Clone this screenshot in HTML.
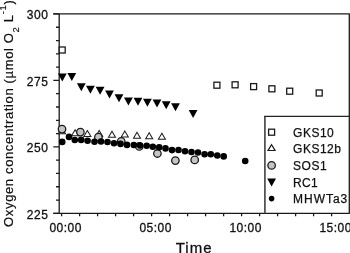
<!DOCTYPE html>
<html><head><meta charset="utf-8"><style>
html,body{margin:0;padding:0;background:#fff;}
body{width:350px;height:253px;position:relative;overflow:hidden;will-change:transform;font-family:"Liberation Sans",sans-serif;color:#111;}
svg{position:absolute;left:0;top:0;}
.yl{position:absolute;left:7.8px;width:40.6px;text-align:right;font-size:12px;line-height:14px;letter-spacing:0.5px;-webkit-text-stroke:0.3px #111;}
.xl{position:absolute;top:220.5px;width:40px;text-align:center;font-size:12px;line-height:14px;letter-spacing:0.5px;-webkit-text-stroke:0.3px #111;}
.lg{position:absolute;left:293.1px;font-size:12px;line-height:14px;white-space:nowrap;letter-spacing:0.5px;-webkit-text-stroke:0.25px #111;}
.tt{position:absolute;left:175.75px;top:239px;font-size:15px;line-height:17px;letter-spacing:1.0px;-webkit-text-stroke:0.3px #111;}
.ya{position:absolute;left:0;top:0;width:260px;transform-origin:0 0;transform:translate(0.7px,226.9px) rotate(-90deg);font-size:13px;line-height:16px;white-space:nowrap;text-align:left;letter-spacing:0.64px;-webkit-text-stroke:0.2px #111;}
.sb{position:relative;top:5.8px;font-size:9.6px;} .sp{position:relative;top:-6.9px;font-size:9.6px;}
</style></head><body>
<svg width="350" height="253" viewBox="0 0 350 253">
<path d="M59.2,13.95V213.35M349.3,13.95V213.35M53.3,13.95H349.90000000000003M53.3,213.35H349.90000000000003" stroke="#1a1a1a" stroke-width="1.3" fill="none"/>
<path d="M53.3,213.35H59.2M56,200.06H59.2M56,186.76H59.2M56,173.47H59.2M56,160.18H59.2M53.3,146.88H59.2M56,133.59H59.2M56,120.30H59.2M56,107.00H59.2M56,93.71H59.2M53.3,80.42H59.2M56,67.12H59.2M56,53.83H59.2M56,40.54H59.2M56,27.24H59.2M53.3,13.95H59.2M61.60,213.35V216.3M79.60,213.35V216.3M97.60,213.35V216.3M115.60,213.35V216.3M133.60,213.35V216.3M151.60,213.35V216.3M169.60,213.35V216.3M187.60,213.35V216.3M205.60,213.35V216.3M223.60,213.35V216.3M241.60,213.35V216.3M259.60,213.35V216.3M277.60,213.35V216.3M295.60,213.35V216.3M313.60,213.35V216.3M331.60,213.35V216.3" stroke="#1a1a1a" stroke-width="1.3" fill="none"/>
<path d="M264.9,213.35V116.3" stroke="#555" stroke-width="1.8" fill="none"/>
<path d="M264.1,116.3H349.3" stroke="#222" stroke-width="1.2" fill="none"/>
<rect x="59.20" y="47.00" width="6.00" height="6.00" fill="#fff" stroke="#1a1a1a" stroke-width="1.3"/>
<rect x="213.90" y="82.20" width="6.00" height="6.00" fill="#fff" stroke="#1a1a1a" stroke-width="1.3"/>
<rect x="232.10" y="81.80" width="6.00" height="6.00" fill="#fff" stroke="#1a1a1a" stroke-width="1.3"/>
<rect x="250.60" y="83.60" width="6.00" height="6.00" fill="#fff" stroke="#1a1a1a" stroke-width="1.3"/>
<rect x="268.90" y="85.80" width="6.00" height="6.00" fill="#fff" stroke="#1a1a1a" stroke-width="1.3"/>
<rect x="286.70" y="88.20" width="6.00" height="6.00" fill="#fff" stroke="#1a1a1a" stroke-width="1.3"/>
<rect x="316.20" y="90.00" width="6.00" height="6.00" fill="#fff" stroke="#1a1a1a" stroke-width="1.3"/>
<polygon points="62.00,126.75 57.60,134.25 66.40,134.25" fill="#1a1a1a"/><polygon points="62.00,128.73 59.35,133.25 64.65,133.25" fill="#fff"/>
<polygon points="75.10,128.75 70.70,136.25 79.50,136.25" fill="#1a1a1a"/><polygon points="75.10,130.73 72.45,135.25 77.75,135.25" fill="#fff"/>
<polygon points="87.40,129.45 83.00,136.95 91.80,136.95" fill="#1a1a1a"/><polygon points="87.40,131.43 84.75,135.95 90.05,135.95" fill="#fff"/>
<polygon points="99.20,129.45 94.80,136.95 103.60,136.95" fill="#1a1a1a"/><polygon points="99.20,131.43 96.55,135.95 101.85,135.95" fill="#fff"/>
<polygon points="112.00,130.35 107.60,137.85 116.40,137.85" fill="#1a1a1a"/><polygon points="112.00,132.33 109.35,136.85 114.65,136.85" fill="#fff"/>
<polygon points="124.80,129.95 120.40,137.45 129.20,137.45" fill="#1a1a1a"/><polygon points="124.80,131.93 122.15,136.45 127.45,136.45" fill="#fff"/>
<polygon points="137.00,131.15 132.60,138.65 141.40,138.65" fill="#1a1a1a"/><polygon points="137.00,133.13 134.35,137.65 139.65,137.65" fill="#fff"/>
<polygon points="149.20,131.75 144.80,139.25 153.60,139.25" fill="#1a1a1a"/><polygon points="149.20,133.73 146.55,138.25 151.85,138.25" fill="#fff"/>
<polygon points="161.90,132.35 157.50,139.85 166.30,139.85" fill="#1a1a1a"/><polygon points="161.90,134.33 159.25,138.85 164.55,138.85" fill="#fff"/>
<circle cx="62" cy="129.1" r="3.75" fill="#c4c4c4" stroke="#1a1a1a" stroke-width="1.3"/>
<circle cx="80.4" cy="132.1" r="3.75" fill="#c4c4c4" stroke="#1a1a1a" stroke-width="1.3"/>
<circle cx="98.4" cy="137.2" r="3.75" fill="#c4c4c4" stroke="#1a1a1a" stroke-width="1.3"/>
<circle cx="121.2" cy="141.4" r="3.75" fill="#c4c4c4" stroke="#1a1a1a" stroke-width="1.3"/>
<circle cx="139.3" cy="146.4" r="3.75" fill="#c4c4c4" stroke="#1a1a1a" stroke-width="1.3"/>
<circle cx="157.4" cy="153.5" r="3.75" fill="#c4c4c4" stroke="#1a1a1a" stroke-width="1.3"/>
<circle cx="175.4" cy="160.6" r="3.75" fill="#c4c4c4" stroke="#1a1a1a" stroke-width="1.3"/>
<circle cx="194.7" cy="159.9" r="3.75" fill="#c4c4c4" stroke="#1a1a1a" stroke-width="1.3"/>
<polygon points="57.90,73.60 66.70,73.60 62.30,81.60" fill="#000"/>
<polygon points="67.40,72.90 76.20,72.90 71.80,80.90" fill="#000"/>
<polygon points="76.90,83.20 85.70,83.20 81.30,91.20" fill="#000"/>
<polygon points="86.00,85.80 94.80,85.80 90.40,93.80" fill="#000"/>
<polygon points="95.70,86.70 104.50,86.70 100.10,94.70" fill="#000"/>
<polygon points="105.10,90.40 113.90,90.40 109.50,98.40" fill="#000"/>
<polygon points="114.60,94.20 123.40,94.20 119.00,102.20" fill="#000"/>
<polygon points="124.00,97.50 132.80,97.50 128.40,105.50" fill="#000"/>
<polygon points="133.60,97.70 142.40,97.70 138.00,105.70" fill="#000"/>
<polygon points="143.00,98.70 151.80,98.70 147.40,106.70" fill="#000"/>
<polygon points="152.60,99.60 161.40,99.60 157.00,107.60" fill="#000"/>
<polygon points="161.80,101.30 170.60,101.30 166.20,109.30" fill="#000"/>
<polygon points="171.10,103.20 179.90,103.20 175.50,111.20" fill="#000"/>
<polygon points="188.70,110.00 197.50,110.00 193.10,118.00" fill="#000"/>
<circle cx="62.2" cy="141.9" r="3.3" fill="#000"/>
<circle cx="69" cy="136.9" r="3.3" fill="#000"/>
<circle cx="74.8" cy="140" r="3.3" fill="#000"/>
<circle cx="81.2" cy="139.9" r="3.3" fill="#000"/>
<circle cx="87.6" cy="140.7" r="3.3" fill="#000"/>
<circle cx="94.5" cy="141.7" r="3.3" fill="#000"/>
<circle cx="101" cy="141.5" r="3.3" fill="#000"/>
<circle cx="107.5" cy="142" r="3.3" fill="#000"/>
<circle cx="114" cy="143.2" r="3.3" fill="#000"/>
<circle cx="120.5" cy="143.9" r="3.3" fill="#000"/>
<circle cx="127" cy="144.9" r="3.3" fill="#000"/>
<circle cx="133.8" cy="145" r="3.3" fill="#000"/>
<circle cx="140.1" cy="145.5" r="3.3" fill="#000"/>
<circle cx="146.7" cy="145.7" r="3.3" fill="#000"/>
<circle cx="152.8" cy="146.8" r="3.3" fill="#000"/>
<circle cx="159.2" cy="147.3" r="3.3" fill="#000"/>
<circle cx="165.5" cy="148.4" r="3.3" fill="#000"/>
<circle cx="172" cy="150.1" r="3.3" fill="#000"/>
<circle cx="178.5" cy="150" r="3.3" fill="#000"/>
<circle cx="185" cy="151.2" r="3.3" fill="#000"/>
<circle cx="191.5" cy="152" r="3.3" fill="#000"/>
<circle cx="198" cy="152.5" r="3.3" fill="#000"/>
<circle cx="204.6" cy="154.2" r="3.3" fill="#000"/>
<circle cx="210.8" cy="154.2" r="3.3" fill="#000"/>
<circle cx="217.3" cy="155.5" r="3.3" fill="#000"/>
<circle cx="223.7" cy="156.4" r="3.3" fill="#000"/>
<circle cx="245.2" cy="161" r="3.3" fill="#000"/>
<rect x="268.60" y="129.20" width="6.00" height="6.00" fill="#fff" stroke="#1a1a1a" stroke-width="1.3"/>
<polygon points="271.55,143.50 266.95,151.10 276.15,151.10" fill="#1a1a1a"/><polygon points="271.55,145.82 269.08,149.90 274.02,149.90" fill="#fff"/>
<circle cx="271.6" cy="165.4" r="3.75" fill="#c4c4c4" stroke="#1a1a1a" stroke-width="1.3"/>
<polygon points="267.20,178.60 276.00,178.60 271.60,186.60" fill="#000"/>
<circle cx="271.6" cy="198.6" r="2.8" fill="#000"/>
</svg>
<div class="yl" style="top:7.6px">300</div><div class="yl" style="top:74.5px">275</div><div class="yl" style="top:140.6px">250</div><div class="yl" style="top:207.8px">225</div><div class="xl" style="left:45.7px">00:00</div><div class="xl" style="left:135.7px">05:00</div><div class="xl" style="left:225.7px">10:00</div><div class="xl" style="left:315.7px">15:00</div><div class="lg" style="top:125.7px;letter-spacing:0.5px">GKS10</div><div class="lg" style="top:142.0px;letter-spacing:0.5px">GKS12b</div><div class="lg" style="top:158.6px;letter-spacing:0.5px">SOS1</div><div class="lg" style="top:175.6px;letter-spacing:0.3px">RC1</div><div class="lg" style="top:192.1px;letter-spacing:0.95px">MHWTa3</div>
<div class="tt">Time</div>
<div class="ya">Oxygen concentration (µmol O<span class="sb">2</span> L<span class="sp">-1</span>)</div>
</body></html>
